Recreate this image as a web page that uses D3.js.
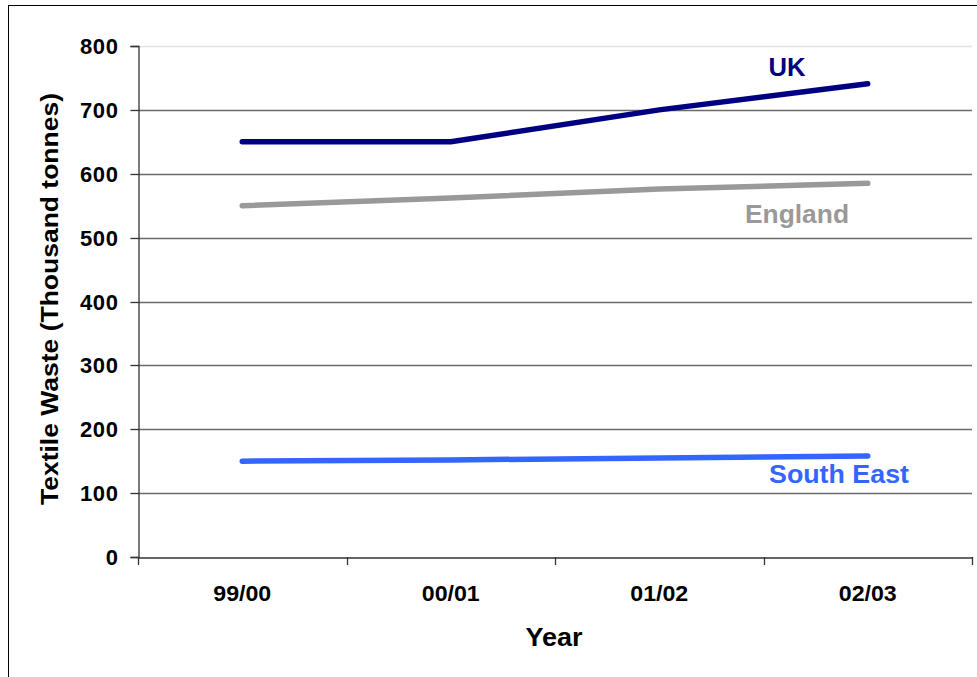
<!DOCTYPE html>
<html>
<head>
<meta charset="utf-8">
<script src="https://cdn.jsdelivr.net/npm/d3@7"></script>
<style>
  html, body { margin: 0; padding: 0; background: #fff; }
  svg { display: block; font-family: "Liberation Sans", Arial, sans-serif; font-weight: bold; }
</style>
</head>
<body>
<svg id="chart" width="977" height="677"></svg>
<script>
const years = ["99/00", "00/01", "01/02", "02/03"];
const ukValues = [650, 650, 700, 741];
const englandValues = [550, 562, 576, 585];
const southEastValues = [150, 152, 155, 158];
const yTicks = [0, 100, 200, 300, 400, 500, 600, 700, 800];
const seriesNames = ["UK", "England", "South East"];
const seriesColors = ["#000080", "#999999", "#3366FF"];

const series = [
  { name: seriesNames[0], values: ukValues, color: seriesColors[0], lx: 787, ly: 76, len: 37 },
  { name: seriesNames[1], values: englandValues, color: seriesColors[1], lx: 797, ly: 223, len: 104 },
  { name: seriesNames[2], values: southEastValues, color: seriesColors[2], lx: 839, ly: 483, len: 140 }
];

const svg = d3.select("#chart");
const plotLeft = 138, plotRight = 972, plotTop = 46, plotBottom = 557;

// outer frame
svg.append("rect").attr("x", 8.5).attr("y", 5.5).attr("width", 1000).attr("height", 1000)
  .attr("fill", "none").attr("stroke", "#000").attr("stroke-width", 1);

const x = d3.scaleBand().domain(years).range([plotLeft, plotRight]);
const y = d3.scaleLinear().domain([0, 800]).range([plotBottom, plotTop]);

// gridlines
svg.append("g").selectAll("line").data(yTicks.filter(d => d > 0)).join("line")
  .attr("x1", plotLeft).attr("x2", plotRight)
  .attr("y1", d => Math.round(y(d)) + 0.5).attr("y2", d => Math.round(y(d)) + 0.5)
  .attr("stroke", d => d === 800 ? "#e4e4e4" : "#6a6a6a").attr("stroke-width", 1.3);

// y axis
const yAxis = svg.append("g").attr("transform", `translate(${plotLeft + 0.5},0)`)
  .call(d3.axisLeft(y).tickValues(yTicks).tickSize(8).tickPadding(12));
yAxis.select(".domain").attr("stroke", "#333").attr("stroke-width", 1.3);
yAxis.selectAll(".tick line").attr("stroke", "#333").attr("stroke-width", 1.3);
yAxis.selectAll(".tick text").attr("font-size", 22).attr("font-family", "Liberation Sans, Arial, sans-serif")
  .attr("font-weight", "bold").attr("fill", "#000").attr("letter-spacing", 0.6);
yAxis.selectAll(".tick").attr("transform", d => `translate(0,${Math.round(y(d)) + 0.5})`);

// x axis
const xAxis = svg.append("g").attr("transform", `translate(0,${plotBottom + 0.5})`)
  .call(d3.axisBottom(x).tickSize(0).tickPadding(28));
xAxis.select(".domain").attr("stroke", "#333").attr("stroke-width", 1.3);
xAxis.selectAll(".tick text").attr("font-size", 22).attr("font-family", "Liberation Sans, Arial, sans-serif")
  .attr("font-weight", "bold").attr("fill", "#000")
  .attr("textLength", 58).attr("lengthAdjust", "spacingAndGlyphs");
// category boundary ticks
const bounds = years.map(d => x(d)).concat([x(years[years.length - 1]) + x.bandwidth()]);
svg.append("g").selectAll("line").data(bounds).join("line")
  .attr("x1", d => Math.round(d) + 0.5).attr("x2", d => Math.round(d) + 0.5)
  .attr("y1", plotBottom).attr("y2", plotBottom + 8)
  .attr("stroke", "#333").attr("stroke-width", 1.3);

// lines
const line = d3.line().x((d, i) => x(years[i]) + x.bandwidth() / 2).y(d => y(d));
svg.append("g").selectAll("path").data(series).join("path")
  .attr("d", d => line(d.values))
  .attr("fill", "none").attr("stroke", d => d.color).attr("stroke-width", 5.5)
  .attr("stroke-linecap", "round").attr("stroke-linejoin", "round");

// series labels
svg.append("g").selectAll("text").data(series).join("text")
  .attr("x", d => d.lx).attr("y", d => d.ly).attr("text-anchor", "middle")
  .attr("font-size", 25).attr("fill", d => d.color)
  .attr("textLength", d => d.len).attr("lengthAdjust", "spacingAndGlyphs")
  .text(d => d.name);

// axis titles
svg.append("text").attr("x", 554).attr("y", 646).attr("text-anchor", "middle")
  .attr("font-size", 25).attr("fill", "#000")
  .attr("textLength", 57).attr("lengthAdjust", "spacingAndGlyphs").text("Year");
svg.append("text").attr("transform", "translate(58,299) rotate(-90)").attr("text-anchor", "middle")
  .attr("font-size", 23).attr("fill", "#000")
  .attr("textLength", 412).attr("lengthAdjust", "spacingAndGlyphs")
  .text("Textile Waste (Thousand tonnes)");
</script>
</body>
</html>
